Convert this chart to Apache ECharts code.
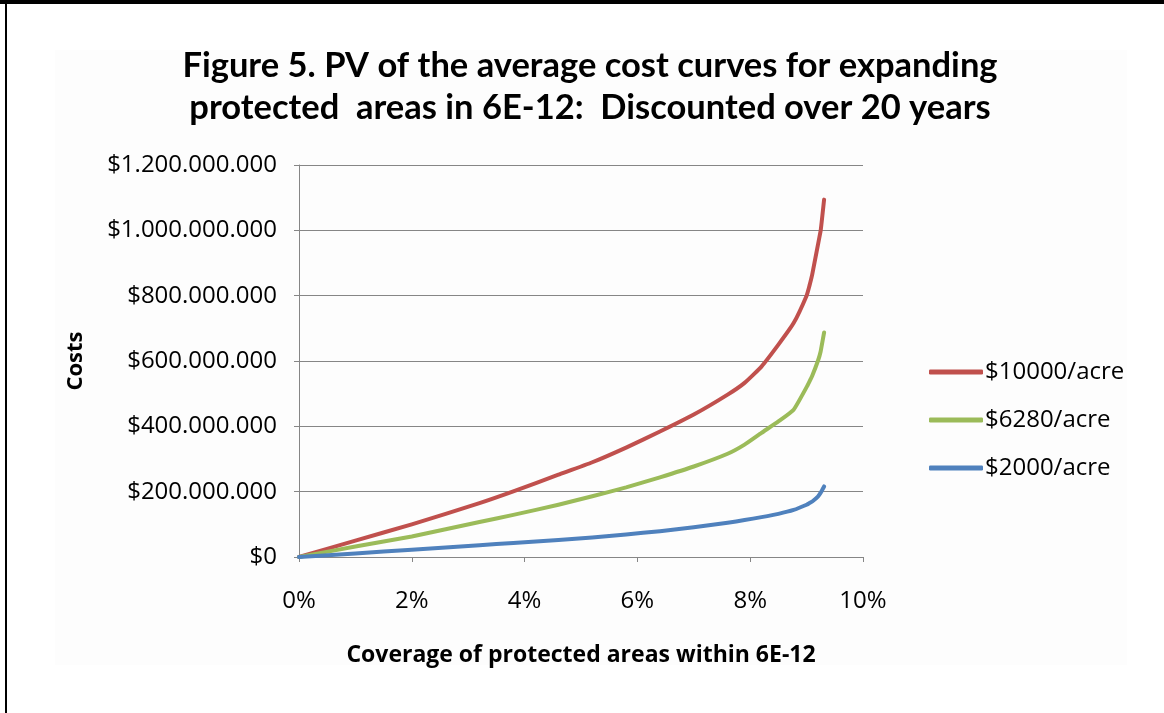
<!DOCTYPE html>
<html>
<head>
<meta charset="utf-8">
<script src="https://cdn.jsdelivr.net/npm/echarts@6/dist/echarts.min.js"></script>
<style>
html,body{margin:0;padding:0;background:#fff;}
#chart{width:1164px;height:713px;}
</style>
</head>
<body>
<div id="chart"></div>
<script>
// Coverage of protected areas (%)
const coverage = [0, 1, 2, 3.2, 3.8, 4.6, 5.2, 5.8, 6.4, 7.0, 7.6, 7.9, 8.2, 8.5, 8.77, 9.0, 9.05, 9.1, 9.2, 9.25, 9.31];
// Costs in millions of dollars
const cost10000 = [0, 50, 100, 165, 201, 252, 290, 335, 384, 436, 497, 533, 583, 650, 716, 800, 830, 865, 955, 1000, 1094];
const cost6280  = [0, 32, 63, 107, 129, 160, 186, 213, 244, 277, 316, 344, 380, 415, 451, 520, 537, 555, 600, 630, 687];
const cost2000  = [0, 11, 22, 36, 43, 52, 60, 69, 79, 91, 105, 113, 122, 132, 144, 160, 165, 170, 185, 197, 216];
const seriesNames = ['$10000/acre', '$6280/acre', '$2000/acre'];
const seriesColors = ['#C0504D', '#9BBB59', '#4F81BD'];
const titleText = 'Figure 5. PV of the average cost curves for expanding\nprotected  areas in 6E-12:  Discounted over 20 years';
const xAxisName = 'Coverage of protected areas within 6E-12';
const yAxisName = 'Costs';

function pairs(vals){ return coverage.map((x,i)=>[x, vals[i]*1e6]); }
function money(v){
  return '$' + String(Math.round(v)).replace(/\B(?=(\d{3})+(?!\d))/g, '.');
}

const chart = echarts.init(document.getElementById('chart'), null, {renderer:'canvas'});
const font = 'Open Sans';
const seriesData = [cost10000, cost6280, cost2000];

chart.setOption({
  animation: false,
  backgroundColor: '#ffffff',
  graphic: [
    {type:'rect', shape:{x:55,y:50,width:1072,height:615}, style:{fill:'#fdfdfd'}, z:-10, silent:true},
    {type:'rect', shape:{x:0,y:0,width:1164,height:4}, style:{fill:'#000'}, z:100},
    {type:'rect', shape:{x:5,y:0,width:2,height:713}, style:{fill:'#000'}, z:100}
  ],
  title: {
    text: titleText,
    left: 585,
    top: 40,
    textAlign: 'center',
    textStyle: {fontFamily:'Lato', fontWeight:'bold', fontSize:34.5, lineHeight:42, color:'#000'}
  },
  legend: {
    orient: 'vertical',
    left: 924,
    top: 355,
    itemWidth: 54,
    itemHeight: 5,
    itemGap: 24,
    icon: 'roundRect',
    data: seriesNames,
    textStyle: {fontFamily:font, fontSize:24, lineHeight:24, color:'#000', padding:[0,0,0,-3]}
  },
  grid: {left:299, right:301, top:165, bottom:156, containLabel:false},
  xAxis: {
    type: 'value',
    min: 0, max: 10, interval: 2,
    name: xAxisName,
    nameLocation: 'middle',
    nameGap: 87,
    nameTextStyle: {fontFamily:font, fontWeight:'bold', fontSize:23, color:'#000'},
    axisLine: {show:true, lineStyle:{color:'#868686', width:1}},
    axisTick: {show:true, length:5, lineStyle:{color:'#868686'}},
    splitLine: {show:false},
    axisLabel: {fontFamily:font, fontSize:24, color:'#000', margin:32, formatter: v => v + '%'}
  },
  yAxis: {
    type: 'value',
    min: 0, max: 1.2e9, interval: 2e8,
    name: yAxisName,
    nameLocation: 'middle',
    nameGap: 212,
    nameRotate: 90,
    nameTextStyle: {fontFamily:font, fontWeight:'bold', fontSize:22, color:'#000'},
    axisLine: {show:true, lineStyle:{color:'#868686', width:1}},
    axisTick: {show:true, length:5, lineStyle:{color:'#868686'}},
    splitLine: {show:true, lineStyle:{color:'#868686', width:1}},
    axisLabel: {fontFamily:font, fontSize:24, color:'#000', margin:22, formatter: v => money(v)}
  },
  series: seriesNames.map((n,i)=>({
    name: n,
    type: 'line',
    data: pairs(seriesData[i]),
    symbol: 'none',
    smooth: 0.15,
    color: seriesColors[i],
    lineStyle: {width:4, color: seriesColors[i], cap:'round', join:'round'}
  }))
});
</script>
</body>
</html>
